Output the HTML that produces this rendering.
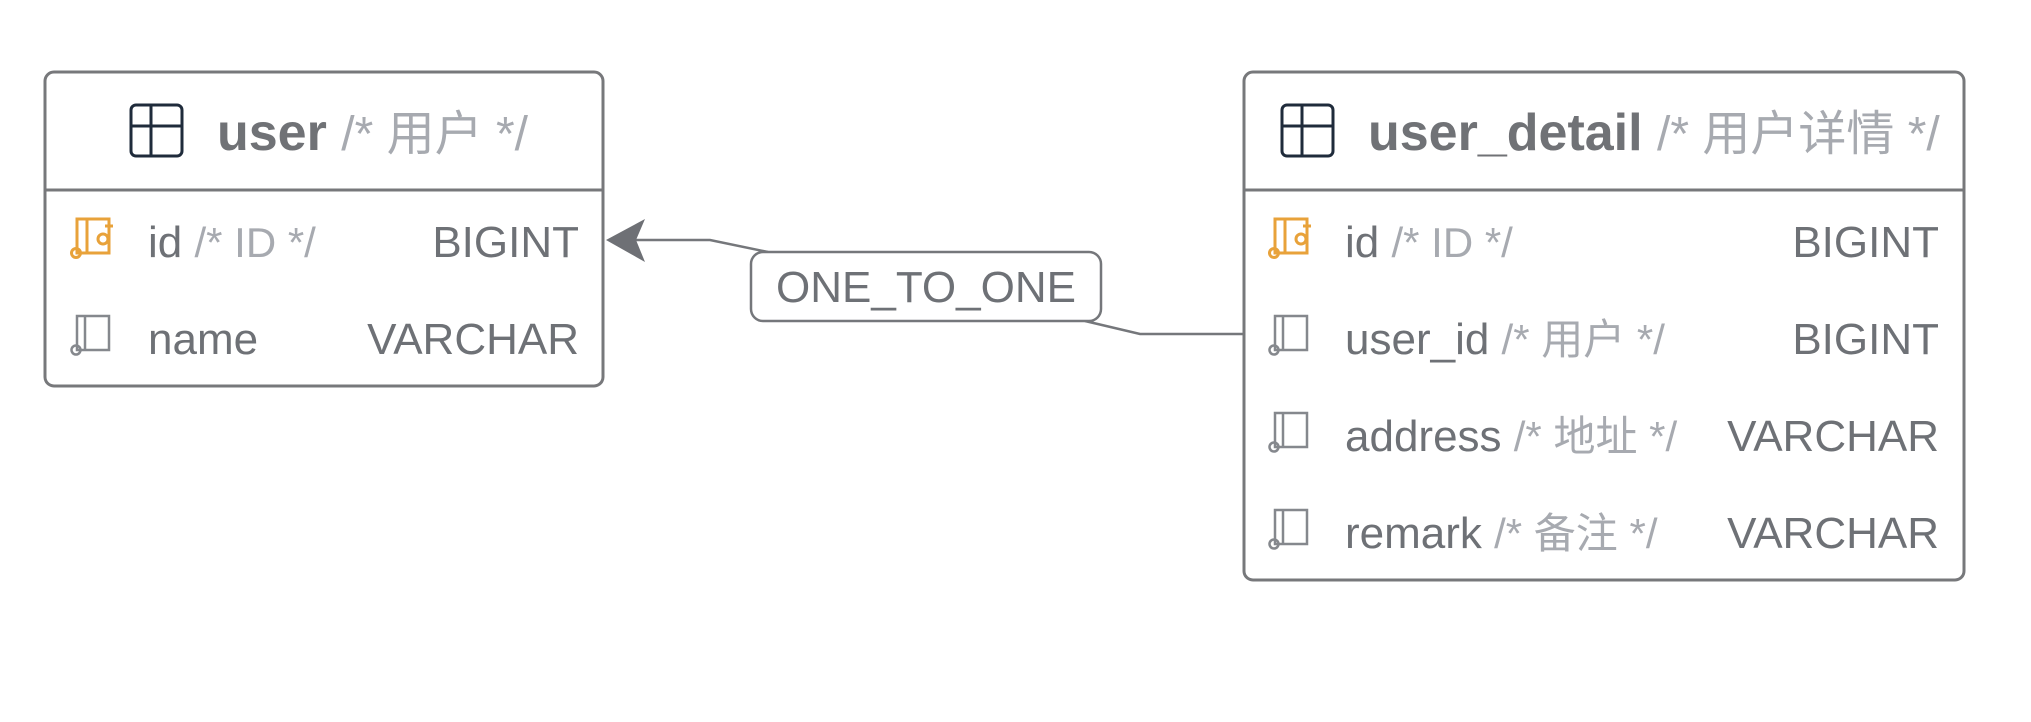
<!DOCTYPE html>
<html><head><meta charset="utf-8"><style>
html,body{margin:0;padding:0;background:#fff;width:2031px;height:722px;overflow:hidden}
svg{display:block}
text{font-family:"Liberation Sans","Noto Sans CJK SC",sans-serif}
.h{font-size:52px;font-weight:bold;fill:#707276}
.c{fill:#a7aab0}
.r{font-size:44px;fill:#6e7176}
</style></head><body>
<svg width="2031" height="722" viewBox="0 0 2031 722" xmlns="http://www.w3.org/2000/svg">
<defs>
<g id="tbl"><rect x="0" y="0" width="51" height="51" rx="5" fill="none" stroke="#1f2b3b" stroke-width="3"/><line x1="0" y1="21" x2="51" y2="21" stroke="#1f2b3b" stroke-width="3"/><line x1="20" y1="0" x2="20" y2="51" stroke="#1f2b3b" stroke-width="3"/></g>
<g id="col" fill="none" stroke="#85888d" stroke-width="2.5"><rect x="6" y="0" width="32" height="34"/><line x1="14" y1="0" x2="14" y2="34"/><circle cx="5" cy="34" r="4.5"/></g>
<g id="pk" fill="none" stroke="#e8a23a" stroke-width="3"><rect x="6" y="0" width="32" height="34"/><line x1="16" y1="0" x2="16" y2="34"/><circle cx="5" cy="34" r="4.5"/><circle cx="32" cy="20" r="5"/><line x1="38" y1="3" x2="38" y2="11"/><line x1="34" y1="7" x2="42" y2="7"/></g>
</defs>
<polyline points="628,240 710,240 768,252" fill="none" stroke="#75777b" stroke-width="2.5"/>
<polygon points="606,240 645,219 636,240 645,262" fill="#6e7075"/>
<polyline points="1085,321 1140,334 1244,334" fill="none" stroke="#75777b" stroke-width="2.5"/>
<rect x="751" y="252" width="350" height="69" rx="12" fill="#fff" stroke="#75777b" stroke-width="2.5"/>
<text x="926" y="302" text-anchor="middle" font-size="44" fill="#6e7176">ONE_TO_ONE</text>
<rect x="45" y="72" width="558" height="314" rx="9" fill="#fff" stroke="#77787b" stroke-width="3"/>
<line x1="45" y1="190" x2="603" y2="190" stroke="#77787b" stroke-width="3"/>
<use href="#tbl" x="131" y="105"/>
<text x="217" y="150" class="h">user <tspan class="c" font-weight="normal" font-size="48">/* 用户 */</tspan></text>
<use href="#pk" x="71" y="219"/>
<text x="148" y="257" class="r">id <tspan class="c" font-size="42">/* ID */</tspan></text>
<text x="579" y="257" class="r" text-anchor="end">BIGINT</text>
<use href="#col" x="71" y="316"/>
<text x="148" y="354" class="r">name</text>
<text x="579" y="354" class="r" text-anchor="end">VARCHAR</text>
<rect x="1244" y="72" width="720" height="508" rx="9" fill="#fff" stroke="#77787b" stroke-width="3"/>
<line x1="1244" y1="190" x2="1964" y2="190" stroke="#77787b" stroke-width="3"/>
<use href="#tbl" x="1282" y="105"/>
<text x="1368" y="150" class="h">user_detail <tspan class="c" font-weight="normal" font-size="48">/* 用户详情 */</tspan></text>
<use href="#pk" x="1269" y="219"/>
<text x="1345" y="257" class="r">id <tspan class="c" font-size="42">/* ID */</tspan></text>
<text x="1939" y="257" class="r" text-anchor="end">BIGINT</text>
<use href="#col" x="1269" y="316"/>
<text x="1345" y="354" class="r">user_id <tspan class="c" font-size="42">/* 用户 */</tspan></text>
<text x="1939" y="354" class="r" text-anchor="end">BIGINT</text>
<use href="#col" x="1269" y="413"/>
<text x="1345" y="451" class="r">address <tspan class="c" font-size="42">/* 地址 */</tspan></text>
<text x="1939" y="451" class="r" text-anchor="end">VARCHAR</text>
<use href="#col" x="1269" y="510"/>
<text x="1345" y="548" class="r">remark <tspan class="c" font-size="42">/* 备注 */</tspan></text>
<text x="1939" y="548" class="r" text-anchor="end">VARCHAR</text>
</svg>
</body></html>
